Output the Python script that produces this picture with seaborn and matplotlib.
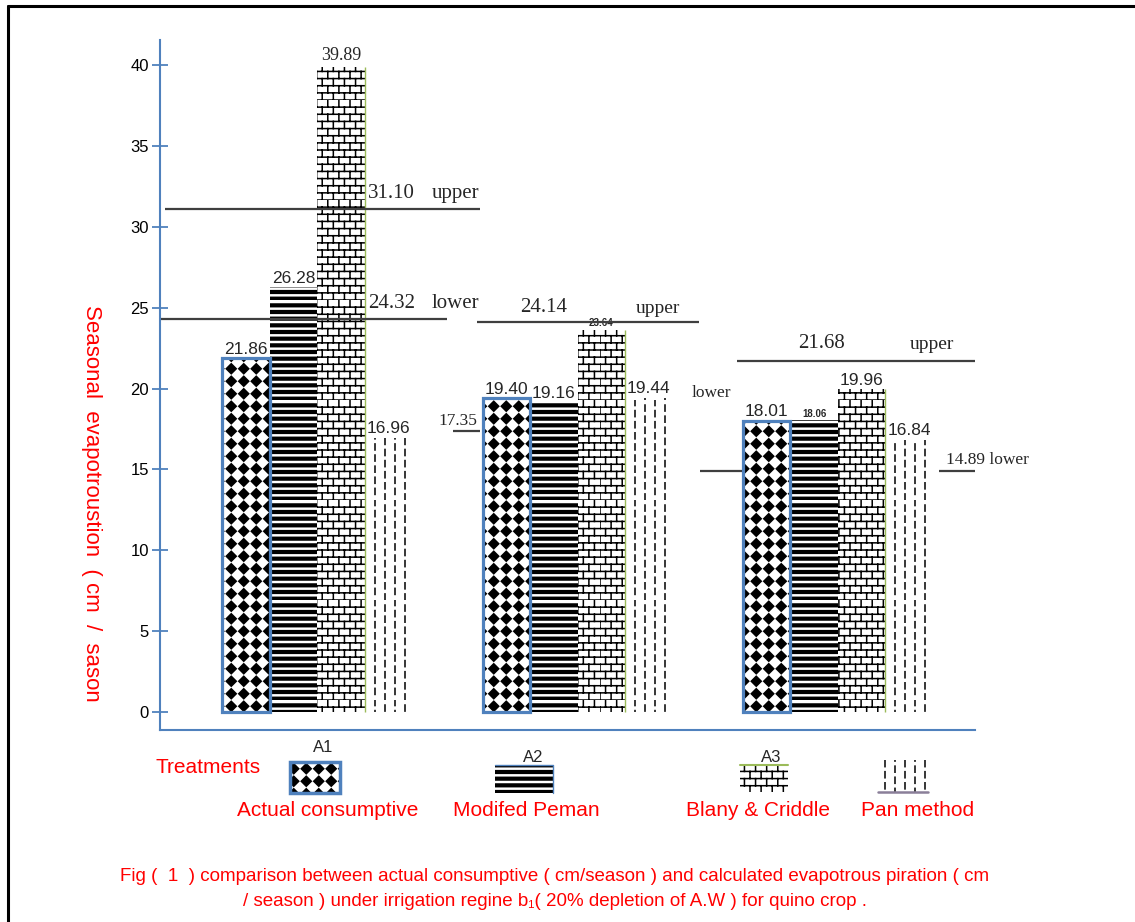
import warnings
warnings.filterwarnings('ignore')
import numpy as np
import pandas as pd
import matplotlib
matplotlib.use('Agg')
import matplotlib.pyplot as plt
import matplotlib.hatch as mhatch
import matplotlib.patches as mpatches
from matplotlib.path import Path
from matplotlib.lines import Line2D
import seaborn as sns

# ---------------- data ----------------
treatments = ['A1', 'A2', 'A3']
methods = ['Actual consumptive', 'Modifed Peman', 'Blany & Criddle', 'Pan method']
actual = [21.86, 19.40, 18.01]
modified = [26.28, 19.16, 18.06]
blaney = [39.89, 23.64, 19.96]
pan = [16.96, 19.44, 16.84]
upper = [31.10, 24.14, 21.68]
lower = [24.32, 17.35, 14.89]
yticks = [0, 5, 10, 15, 20, 25, 30, 35, 40]
ylabel = 'Seasonal  evapotroustion  ( cm  /  sason'
caption1 = 'Fig (  1  ) comparison between actual consumptive ( cm/season ) and calculated evapotrous piration ( cm'
caption2 = '/ season ) under irrigation regine b\u2081( 20% depletion of A.W ) for quino crop .'


# ---------------- custom hatch patterns ----------------
class _CustomHatch(mhatch.HatchPatternBase):
    char = '?'

    def __init__(self, hatch, density):
        if hatch is not None and self.char in hatch:
            v, c = self.build()
            self.verts = np.asarray(v, float)
            self.codes = np.asarray(c, dtype=Path.code_type)
            self.num_vertices = len(self.verts)
        else:
            self.num_vertices = 0

    def set_vertices_and_codes(self, vertices, codes):
        vertices[:] = self.verts
        codes[:] = self.codes


class DiamondHatch(_CustomHatch):
    char = 'd'

    def build(self):
        n = 8
        r = 0.40 / n
        v, c = [], []
        for i in range(n):
            for j in range(n):
                cx, cy = (i + 0.5) / n, (j + 0.5) / n
                v += [(cx, cy + r), (cx + r, cy), (cx, cy - r), (cx - r, cy), (cx, cy + r)]
                c += [Path.MOVETO, Path.LINETO, Path.LINETO, Path.LINETO, Path.CLOSEPOLY]
        return v, c


class StripeHatch(_CustomHatch):
    char = 's'

    def build(self):
        n = 15
        t = 0.40 / n
        v, c = [], []
        for j in range(n):
            y0 = j / n
            v += [(0, y0), (1, y0), (1, y0 + t), (0, y0 + t), (0, y0)]
            c += [Path.MOVETO, Path.LINETO, Path.LINETO, Path.LINETO, Path.CLOSEPOLY]
        return v, c


class BrickHatch(_CustomHatch):
    char = 'b'

    def build(self):
        rows, cols = 14, 9
        v, c = [], []
        for i in range(rows):
            y0, y1 = i / rows, (i + 1) / rows
            v += [(0, y0), (1, y0)]
            c += [Path.MOVETO, Path.LINETO]
            for k in range(cols):
                x = (k + 0.5 * (i % 2)) / cols
                v += [(x, y0), (x, y1)]
                c += [Path.MOVETO, Path.LINETO]
        return v, c


class DashHatch(_CustomHatch):
    char = 'p'

    def build(self):
        cols, rows = 10, 9
        v, c = [], []
        for k in range(cols):
            x = (k + 0.5) / cols
            off = 0.5 * (k % 2)
            for i in range(rows):
                y0 = (i + off) / rows
                y1 = y0 + 0.55 / rows
                v += [(x, y0), (x, y1)]
                c += [Path.MOVETO, Path.LINETO]
        return v, c


mhatch._hatch_types.extend([DiamondHatch, StripeHatch, BrickHatch, DashHatch])

hatches = ['d', 's', 'b', 'p']

# ---------------- style ----------------
sns.set_style('white')
plt.rcParams['font.family'] = ['Liberation Sans', 'DejaVu Sans']
plt.rcParams['hatch.linewidth'] = 1.1

BLUE = '#4F81BD'
RED = '#FF0000'
GREY = '#3f3f3f'
GREEN = '#9BBB59'

W, H = 1135, 922
fig = plt.figure(figsize=(W / 100, H / 100), dpi=100)
ax = fig.add_axes([160 / W, 1 - 730 / H, 815 / W, 690 / H])

records = []
for name, vals in zip(methods, [actual, modified, blaney, pan]):
    for t, val in zip(treatments, vals):
        records.append((t, name, val))
df = pd.DataFrame(records, columns=['Treatment', 'Method', 'ET'])

sns.barplot(data=df, x='Treatment', y='ET', hue='Method', order=treatments,
            hue_order=methods, width=0.73, palette=['white'] * 4, saturation=1,
            errorbar=None, legend=False, linewidth=0, ax=ax)

ax.set_xlim(-0.604, 2.527)
ax.set_ylim(-1.11, 41.55)
ax.set_yticks(yticks)
ax.set_yticklabels([str(t) for t in yticks])
ax.set_xticks([])
ax.set_xlabel('')
ax.set_ylabel('')
for s in ['top', 'right']:
    ax.spines[s].set_visible(False)
for s in ['left', 'bottom']:
    ax.spines[s].set_color(BLUE)
    ax.spines[s].set_linewidth(1.5)
ax.tick_params(axis='y', direction='inout', length=12, width=1.3, color=BLUE,
               labelcolor='black', labelsize=12, pad=2, left=True)
ax.patch.set_alpha(0)

small_labels = {(1, 2), (2, 1)}
serif_labels = {(0, 2)}

for m_idx, (cont, hatch) in enumerate(zip(ax.containers, hatches)):
    for g_idx, bar in enumerate(cont):
        bar.set_facecolor('white')
        bar.set_edgecolor('black')
        bar.set_linewidth(0)
        bar.set_hatch(hatch)
        val = bar.get_height()
        cx = bar.get_x() + bar.get_width() / 2
        if m_idx == 0:
            ax.add_patch(mpatches.Rectangle(bar.get_xy(), bar.get_width(), val,
                                            fill=False, edgecolor=BLUE, lw=2.3,
                                            zorder=bar.get_zorder() + 0.1))
        if m_idx == 2:
            xr = bar.get_x() + bar.get_width()
            ax.vlines(xr, 0, val, color=GREEN, lw=1.0, zorder=bar.get_zorder() + 0.1)
        if (g_idx, m_idx) in small_labels:
            ax.annotate(f'{val:.2f}', (cx, val), xytext=(0, 1), textcoords='offset points',
                        ha='center', va='bottom', fontsize=7, fontweight='bold')
        elif (g_idx, m_idx) in serif_labels:
            ax.annotate(f'{val:.2f}', (cx, val), xytext=(0, 2), textcoords='offset points',
                        ha='center', va='bottom', fontsize=13, family='Liberation Serif',
                        annotation_clip=False)
        else:
            ax.annotate(f'{val:.2f}', (cx, val), xytext=(0, 1), textcoords='offset points',
                        ha='center', va='bottom', fontsize=12.5)

# ---------------- upper / lower limit lines ----------------
upper_seg = [(-0.585, 0.627), (-0.385, 0.465), (-0.388, 0.615)]
lower_seg = [[(-0.60, 0.50)], [(-0.48, -0.373)], [(-0.53, -0.37), (0.39, 0.72)]]

for g in range(3):
    x0, x1 = upper_seg[g]
    ax.hlines(upper[g], g + x0, g + x1, color=GREY, lw=1.6, zorder=5)
    for (a, b) in lower_seg[g]:
        ax.hlines(lower[g], g + a, g + b, color=GREY, lw=1.6, zorder=5)

serif = 'Liberation Serif'
# A1
ax.annotate(f'{upper[0]:.2f}', (0.196, upper[0]), xytext=(0, 4), textcoords='offset points',
            ha='left', va='bottom', fontsize=15, family=serif)
ax.annotate('upper', (0.44, upper[0]), xytext=(0, 4), textcoords='offset points',
            ha='left', va='bottom', fontsize=15, family=serif)
ax.annotate(f'{lower[0]:.2f}', (0.196, lower[0]), xytext=(0, 4), textcoords='offset points',
            ha='left', va='bottom', fontsize=15, family=serif)
ax.annotate('lower', (0.44, lower[0]), xytext=(0, 4), textcoords='offset points',
            ha='left', va='bottom', fontsize=15, family=serif)
# A2
ax.annotate(f'{upper[1]:.2f}', (1 - 0.13, upper[1]), xytext=(0, 3), textcoords='offset points',
            ha='center', va='bottom', fontsize=15, family=serif)
ax.annotate('upper', (1 + 0.223, upper[1]), xytext=(0, 3), textcoords='offset points',
            ha='left', va='bottom', fontsize=14, family=serif)
ax.annotate(f'{lower[1]:.2f}', (1 - 0.46, lower[1]), xytext=(0, 2), textcoords='offset points',
            ha='center', va='bottom', fontsize=12.5, family=serif)
ax.annotate('lower', (1 + 0.44, lower[1]), xytext=(0, 22), textcoords='offset points',
            ha='left', va='bottom', fontsize=12.5, family=serif)
# A3
ax.annotate(f'{upper[2]:.2f}', (2 - 0.062, upper[2]), xytext=(0, 6), textcoords='offset points',
            ha='center', va='bottom', fontsize=15, family=serif)
ax.annotate('upper', (2 + 0.277, upper[2]), xytext=(0, 6), textcoords='offset points',
            ha='left', va='bottom', fontsize=14, family=serif)
ax.annotate(f'{lower[2]:.2f} lower', (2 + 0.415, lower[2]), xytext=(0, 2),
            textcoords='offset points', ha='left', va='bottom', fontsize=12.5, family=serif,
            annotation_clip=False)

# ---------------- figure furniture ----------------
fig.add_artist(Line2D([8 / W, 8 / W], [0, 1 - 6 / H], transform=fig.transFigure,
                      color='black', lw=2.2))
fig.add_artist(Line2D([8 / W, 1], [1 - 6 / H, 1 - 6 / H], transform=fig.transFigure,
                      color='black', lw=2.2))

fig.text(91 / W, 1 - 503 / H, ylabel, rotation=270, color=RED, fontsize=16,
         ha='center', va='center')

# treatment labels
for lab, (px, py) in zip(treatments, [(323, 747), (533, 757), (771, 757)]):
    fig.text(px / W, 1 - py / H, lab, ha='center', va='center', fontsize=12)

fig.text(155 / W, 1 - 767 / H, 'Treatments', ha='left', va='center', color=RED, fontsize=15)

# legend swatches
sw = [(290, 762, 50, 31), (495, 765, 58, 28), (740, 765, 48, 27), (878, 760, 50, 32)]
lab_pos = [(328, 810), (526, 810), (758, 810), (918, 810)]
for i, (name, hatch) in enumerate(zip(methods, hatches)):
    x, y, w, h = sw[i]
    x0, y0, ww, hh = x / W, 1 - (y + h) / H, w / W, h / H
    rect = mpatches.Rectangle((x0, y0), ww, hh, transform=fig.transFigure,
                              facecolor='white', edgecolor='black', lw=0, hatch=hatch)
    fig.add_artist(rect)
    if i == 0:
        fig.add_artist(mpatches.Rectangle((x0, y0), ww, hh, transform=fig.transFigure,
                                          fill=False, edgecolor=BLUE, lw=2.5))
    elif i == 1:
        fig.add_artist(Line2D([x0, x0 + ww, x0 + ww], [y0 + hh, y0 + hh, y0],
                              transform=fig.transFigure, color=BLUE, lw=1))
    elif i == 2:
        fig.add_artist(Line2D([x0, x0 + ww], [y0 + hh, y0 + hh],
                              transform=fig.transFigure, color=GREEN, lw=1.5))
    else:
        fig.add_artist(Line2D([x0, x0 + ww], [y0, y0],
                              transform=fig.transFigure, color='#8a7f99', lw=1.8))
    lx, ly = lab_pos[i]
    fig.text(lx / W, 1 - ly / H, name, ha='center', va='center', color=RED, fontsize=15)

fig.text(555 / W, 1 - 876 / H, caption1, ha='center', va='center', color=RED, fontsize=13.5)
fig.text(555 / W, 1 - 901 / H, caption2, ha='center', va='center', color=RED, fontsize=13.5)

fig.savefig('out.png', dpi=100)
